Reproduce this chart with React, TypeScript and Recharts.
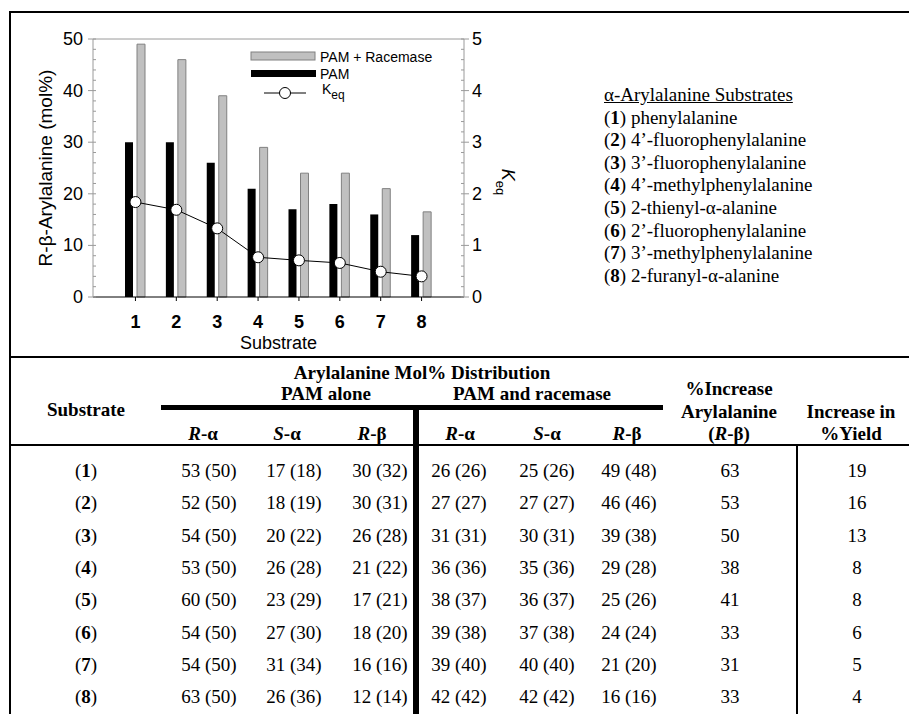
import React from 'react';
import { ComposedChart, Bar, Line, XAxis, YAxis, Legend, ReferenceLine, Label } from 'recharts';

// chart values
const substrates = ['1', '2', '3', '4', '5', '6', '7', '8'];
const pamOnly = [30, 30, 26, 21, 17, 18, 16, 12];
const pamRacemase = [49, 46, 39, 29, 24, 24, 21, 16.5];
const keqValues = [1.84, 1.69, 1.33, 0.77, 0.71, 0.66, 0.49, 0.4];

const leftLabels = [0, 10, 20, 30, 40, 50];
const rightLabels = [0, 1, 2, 3, 4, 5];
// minor ticks every 2 mol% and every 0.2 Keq
const leftTicks = Array.from({ length: 26 }, (_, i) => i * 2);
const rightTicks = Array.from({ length: 26 }, (_, i) => i / 5);

const substrateNames = [
  'phenylalanine',
  '4’-fluorophenylalanine',
  '3’-fluorophenylalanine',
  '4’-methylphenylalanine',
  '2-thienyl-α-alanine',
  '2’-fluorophenylalanine',
  '3’-methylphenylalanine',
  '2-furanyl-α-alanine',
];

// table: [measured, (calculated)]
const pamAloneRAlpha = [[53, 50], [52, 50], [54, 50], [53, 50], [60, 50], [54, 50], [54, 50], [63, 50]];
const pamAloneSAlpha = [[17, 18], [18, 19], [20, 22], [26, 28], [23, 29], [27, 30], [31, 34], [26, 36]];
const pamAloneRBeta = [[30, 32], [30, 31], [26, 28], [21, 22], [17, 21], [18, 20], [16, 16], [12, 14]];
const racRAlpha = [[26, 26], [27, 27], [31, 31], [36, 36], [38, 37], [39, 38], [39, 40], [42, 42]];
const racSAlpha = [[25, 26], [27, 27], [30, 31], [35, 36], [36, 37], [37, 38], [40, 40], [42, 42]];
const racRBeta = [[49, 48], [46, 46], [39, 38], [29, 28], [25, 26], [24, 24], [21, 20], [16, 16]];
const increaseArylalanine = [63, 53, 50, 38, 41, 33, 31, 33];
const increaseYield = [19, 16, 13, 8, 8, 6, 5, 4];

const chartData = substrates.map((s, i) => ({
  substrate: s,
  pam: pamOnly[i],
  racemase: pamRacemase[i],
  keq: keqValues[i],
}));

const SANS = "'Liberation Sans', Arial, sans-serif";
const SERIF = "'Liberation Serif', 'Times New Roman', serif";
const AXIS_GRAY = '#9a9a9a';

const LeftTick = (props: any) => {
  const { x, y, payload } = props;
  const v = payload.value;
  const major = leftLabels.includes(v);
  return (
    <g>
      <line x1={major ? x - 5 : x} x2={x + 3} y1={y} y2={y} stroke={AXIS_GRAY} />
      {major && (
        <text x={x - 10} y={y} textAnchor="end" dominantBaseline="central" fontSize={18} fontFamily={SANS} fill="#000">
          {v}
        </text>
      )}
    </g>
  );
};

const RightTick = (props: any) => {
  const { x, y, payload } = props;
  const v = payload.value;
  const major = rightLabels.some((r) => Math.abs(r - v) < 1e-6);
  return (
    <g>
      <line x1={x - 3} x2={major ? x + 5 : x} y1={y} y2={y} stroke={AXIS_GRAY} />
      {major && (
        <text x={x + 8} y={y} textAnchor="start" dominantBaseline="central" fontSize={18} fontFamily={SANS} fill="#000">
          {Math.round(v)}
        </text>
      )}
    </g>
  );
};

const renderLegend = () => (
  <svg width={200} height={60} style={{ display: 'block', overflow: 'visible' }} fontFamily={SANS}>
    <rect x={1} y={4} width={64} height={8} fill="#c0c0c0" stroke="#808080" />
    <text x={70} y={9} dominantBaseline="central" fontSize={14} fill="#000">PAM + Racemase</text>
    <rect x={1} y={22} width={65} height={7} fill="#000" />
    <text x={70} y={26} dominantBaseline="central" fontSize={14} fill="#000">PAM</text>
    <line x1={14} x2={56} y1={45} y2={45} stroke="#000" />
    <circle cx={35} cy={45} r={5.5} fill="#fff" stroke="#000" />
    <text x={72} y={46} fontSize={14} fill="#000">
      K<tspan dy={5} fontSize={12}>eq</tspan>
    </text>
  </svg>
);

const T = ({ x, y, bold, children }: { x: number; y: number; bold?: boolean; children: React.ReactNode }) => (
  <div
    style={{
      position: 'absolute',
      left: x,
      top: y,
      transform: 'translate(-50%, -50%)',
      whiteSpace: 'nowrap',
      lineHeight: 1,
      fontWeight: bold ? 'bold' : 'normal',
    }}
  >
    {children}
  </div>
);

const HLine = ({ x, y, w, h }: { x: number; y: number; w: number; h: number }) => (
  <div style={{ position: 'absolute', left: x, top: y, width: w, height: h, background: '#000' }} />
);

const RB = () => (
  <>
    <i>R</i>-β
  </>
);

const valueColumns = [
  { x: 209, data: pamAloneRAlpha },
  { x: 294, data: pamAloneSAlpha },
  { x: 380, data: pamAloneRBeta },
  { x: 459, data: racRAlpha },
  { x: 547, data: racSAlpha },
  { x: 629, data: racRBeta },
];

const rowY = (i: number) => 470 + i * 32.3;

export default function App() {
  return (
    <div
      style={{
        position: 'absolute',
        left: 0,
        top: 0,
        width: 909,
        height: 714,
        overflow: 'hidden',
        background: '#fff',
        fontFamily: SERIF,
        fontSize: 19,
        color: '#000',
      }}
    >
      {/* frame */}
      <HLine x={10} y={11} w={899} h={2} />
      <HLine x={9} y={11} w={2} h={703} />
      <HLine x={10} y={356} w={899} h={2} />

      <div style={{ position: 'absolute', left: 0, top: 0 }}>
        <ComposedChart
          width={560}
          height={357}
          data={chartData}
          margin={{ top: 39, right: 56, bottom: 0, left: 10 }}
          barSize={8}
          barGap={4}
        >
          <XAxis
            dataKey="substrate"
            padding={{ left: 22, right: 22 }}
            height={60}
            axisLine={{ stroke: '#000' }}
            tickLine={{ stroke: '#000' }}
            tickSize={4}
            tickMargin={14}
            tick={{ fontSize: 18, fontWeight: 'bold', fill: '#000', fontFamily: SANS }}
          >
            <Label
              content={(p: any) => {
                const vb = p.viewBox;
                return (
                  <text
                    x={vb.x + vb.width / 2}
                    y={vb.y + 46}
                    textAnchor="middle"
                    dominantBaseline="central"
                    fontSize={18}
                    fontFamily={SANS}
                    fill="#000"
                  >
                    Substrate
                  </text>
                );
              }}
            />
          </XAxis>
          <YAxis
            yAxisId="left"
            width={83}
            domain={[0, 50]}
            ticks={leftTicks}
            interval={0}
            tickSize={0}
            tickMargin={0}
            tickLine={false}
            axisLine={{ stroke: AXIS_GRAY }}
            tick={<LeftTick />}
          >
            <Label
              content={(p: any) => {
                const vb = p.viewBox;
                const cx = vb.x + 35;
                const cy = vb.y + vb.height / 2;
                return (
                  <text
                    x={cx}
                    y={cy}
                    transform={`rotate(-90, ${cx}, ${cy})`}
                    textAnchor="middle"
                    dominantBaseline="central"
                    fontSize={19}
                    fontFamily={SANS}
                    fill="#000"
                  >
                    R-β-Arylalanine (mol%)
                  </text>
                );
              }}
            />
          </YAxis>
          <YAxis
            yAxisId="right"
            orientation="right"
            width={40}
            domain={[0, 5]}
            ticks={rightTicks}
            interval={0}
            tickSize={0}
            tickMargin={0}
            tickLine={false}
            axisLine={{ stroke: AXIS_GRAY }}
            tick={<RightTick />}
          >
            <Label
              content={(p: any) => {
                const vb = p.viewBox;
                const cx = vb.x + 38;
                const cy = vb.y + vb.height / 2 + 14;
                return (
                  <text
                    x={cx}
                    y={cy}
                    transform={`rotate(90, ${cx}, ${cy})`}
                    textAnchor="middle"
                    fontSize={18}
                    fontFamily={SANS}
                    fill="#000"
                  >
                    <tspan fontStyle="italic">K</tspan>
                    <tspan dy={6} fontSize={13}>eq</tspan>
                  </text>
                );
              }}
            />
          </YAxis>
          <ReferenceLine yAxisId="left" y={50} stroke={AXIS_GRAY} />
          <Legend
            layout="vertical"
            align="center"
            verticalAlign="middle"
            content={renderLegend}
            wrapperStyle={{ top: 48, left: 250, width: 200, height: 60 }}
          />
          <Bar yAxisId="left" dataKey="pam" name="PAM" fill="#000" isAnimationActive={false} />
          <Bar
            yAxisId="left"
            dataKey="racemase"
            name="PAM + Racemase"
            fill="#c0c0c0"
            stroke="#808080"
            strokeWidth={1}
            isAnimationActive={false}
          />
          <Line
            yAxisId="right"
            dataKey="keq"
            name="Keq"
            stroke="#000"
            strokeWidth={1}
            dot={{ r: 5.5, fill: '#fff', stroke: '#000', strokeWidth: 1 }}
            isAnimationActive={false}
          />
        </ComposedChart>
      </div>

      {/* substrate list */}
      <div style={{ position: 'absolute', left: 604, top: 84, lineHeight: '22.6px', whiteSpace: 'nowrap' }}>
        <div style={{ textDecoration: 'underline' }}>α-Arylalanine Substrates</div>
        {substrateNames.map((n, i) => (
          <div key={n}>
            (<b>{substrates[i]}</b>) {n}
          </div>
        ))}
      </div>

      {/* table */}
      <HLine x={161} y={405} w={502} h={5} />
      <HLine x={413} y={405} w={6} h={309} />
      <HLine x={10} y={444} w={899} h={2} />
      <HLine x={796} y={445} w={2} h={269} />

      <T x={422} y={372} bold>Arylalanine Mol% Distribution</T>
      <T x={326} y={393} bold>PAM alone</T>
      <T x={532} y={393} bold>PAM and racemase</T>
      <T x={86} y={409} bold>Substrate</T>
      <T x={729} y={388} bold>%Increase</T>
      <T x={729} y={411} bold>Arylalanine</T>
      <T x={729} y={433} bold>(<RB />)</T>
      <T x={851} y={411} bold>Increase in</T>
      <T x={851} y={433} bold>%Yield</T>

      <T x={203} y={433} bold><i>R</i>-α</T>
      <T x={287} y={433} bold><i>S</i>-α</T>
      <T x={372} y={433} bold><RB /></T>
      <T x={460} y={433} bold><i>R</i>-α</T>
      <T x={547} y={433} bold><i>S</i>-α</T>
      <T x={627} y={433} bold><RB /></T>

      {substrates.map((s, i) => (
        <React.Fragment key={s}>
          <T x={86} y={rowY(i)}>
            (<b>{s}</b>)
          </T>
          {valueColumns.map((c) => (
            <T key={c.x} x={c.x} y={rowY(i)}>
              {`${c.data[i][0]} (${c.data[i][1]})`}
            </T>
          ))}
          <T x={730} y={rowY(i)}>{increaseArylalanine[i]}</T>
          <T x={857} y={rowY(i)}>{increaseYield[i]}</T>
        </React.Fragment>
      ))}
    </div>
  );
}
